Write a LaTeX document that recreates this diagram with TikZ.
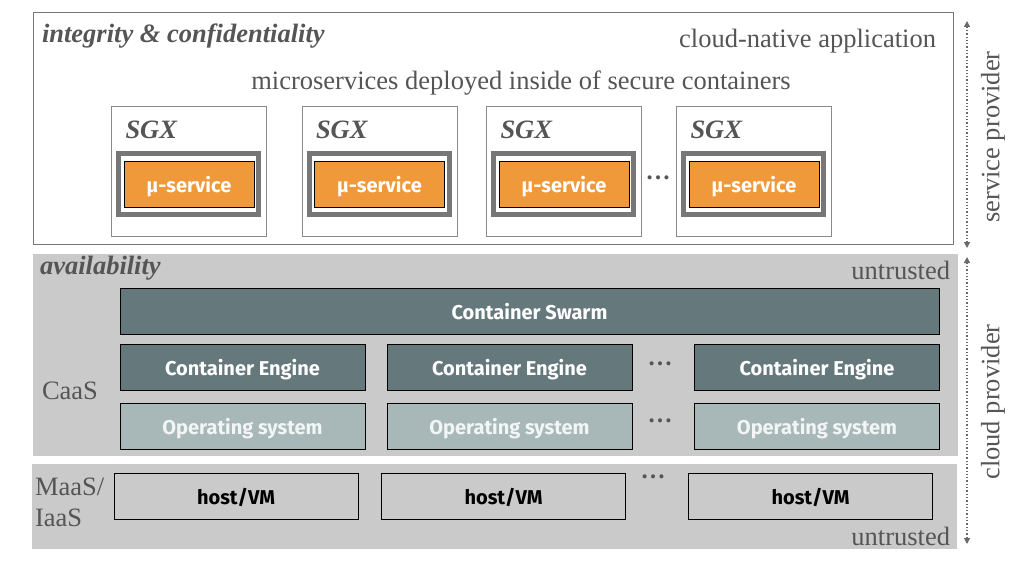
\documentclass[tikz,border=0pt]{standalone}
\usepackage{fontspec}
\setmainfont{Liberation Serif}
\setsansfont{Fira Sans}
\usetikzlibrary{arrows.meta}
\definecolor{txtgray}{HTML}{555555}
\definecolor{bandgray}{HTML}{CACACA}
\definecolor{framegray}{HTML}{777777}
\definecolor{sgxgray}{HTML}{8A8A8A}
\definecolor{msorange}{HTML}{F0993A}
\definecolor{engfill}{HTML}{65787C}
\definecolor{osfill}{HTML}{A8B8B8}
\definecolor{ostext}{HTML}{F2F5F5}
\definecolor{arrgray}{HTML}{6A6A6A}
\newcommand{\serifbig}{\fontsize{26.5}{30}\selectfont}
\newcommand{\sansmid}{\fontsize{20}{24}\selectfont\sffamily\bfseries}
\begin{document}
\begin{tikzpicture}[x=1pt,y=-1pt,
  every node/.style={inner sep=0pt, outer sep=0pt},
  topbox/.style={draw=framegray, line width=1pt, fill=white},
  sgxbox/.style={draw=sgxgray, line width=1pt, fill=white, minimum width=155pt, minimum height=129pt},
  enclave/.style={draw=framegray, line width=5pt, minimum width=140pt, minimum height=61pt},
  sansbox/.style={draw=black, line width=0.8pt, minimum height=46pt, font=\sansmid, text height=16.5pt, text depth=0pt},
  msbox/.style={sansbox, fill=msorange, minimum width=130pt, text=white},
  swarmbox/.style={sansbox, fill=engfill, minimum width=819pt, text=white},
  engbox/.style={sansbox, fill=engfill, minimum width=245pt, text=white},
  osbox/.style={sansbox, fill=osfill, minimum width=245pt, text=ostext},
  hostbox/.style={sansbox, fill=bandgray, minimum width=244pt, text=black},
  lbl/.style={text=txtgray, font=\serifbig},
  lblbi/.style={text=txtgray, font=\serifbig\bfseries\itshape},
  dotsl/.style={text=txtgray, font=\fontsize{25}{25}\selectfont\bfseries},
  sideline/.style={draw=arrgray, line width=1.3pt, dotted, {Triangle[width=6pt,length=6pt]}-{Triangle[width=6pt,length=6pt]}}
]
\useasboundingbox (0,0) rectangle (1024,569);

% frames
\node[topbox, minimum width=920pt, minimum height=231pt] (app) at (493,128.5) {};
\fill[bandgray] (33,254) rectangle (958,456);
\fill[bandgray] (32,464) rectangle (957,549);

% top labels
\node[lblbi, anchor=west] (integ) at (42,36) {integrity \& confidentiality};
\node[lbl, anchor=east] (cna) at (936,41) {cloud-native application};
\node[lbl] (micro) at (521,83) {microservices deployed inside of secure containers};

% SGX containers
\foreach \i/\cx in {1/189, 2/379.5, 3/564, 4/754} {
  \node[sgxbox] (sgx\i) at (\cx,171.5) {};
  \node[lblbi, anchor=west] (sgxl\i) at ([xshift=14pt,yshift=-23pt]sgx\i.north west) {SGX};
  \node[enclave] (encl\i) at (\cx-0.5,184) {};
  \node[msbox] (ms\i) at (\cx,184) {μ-service};
}
\node[dotsl] (dtop) at (658,178) {…};

% CaaS layer
\node[lblbi, anchor=west] (avail) at (40,268) {availability};
\node[lbl, anchor=east] (untr1) at (950,270) {untrusted};
\node[lbl, anchor=west] (caas) at (42,391) {CaaS};
\node[swarmbox] (swarm) at (529.5,311) {Container Swarm};
\node[engbox] (eng1) at (242.5,367) {Container Engine};
\node[engbox] (eng2) at (509.5,367) {Container Engine};
\node[engbox] (eng3) at (817,367) {Container Engine};
\node[dotsl] (deng) at (660,364) {…};
\node[osbox] (os1) at (242.5,426) {Operating system};
\node[osbox] (os2) at (509.5,426) {Operating system};
\node[osbox] (os3) at (817,426) {Operating system};
\node[dotsl] (dos) at (660,421) {…};

% MaaS/IaaS layer
\node[lbl, anchor=west, align=left] (maas) at (35,502) {MaaS/\\[1pt]IaaS};
\node[hostbox] (host1) at (236,496) {host/VM};
\node[hostbox] (host2) at (503.5,496) {host/VM};
\node[hostbox] (host3) at (810.5,496) {host/VM};
\node[dotsl] (dhost) at (653,477) {…};
\node[lbl, anchor=east] (untr2) at (950,536) {untrusted};

% side arrows
\coordinate (sptop) at (967,21);
\coordinate (spbot) at (967,248);
\coordinate (cptop) at (967,257);
\coordinate (cpbot) at (967,544);
\draw[sideline] (sptop) -- (spbot);
\draw[sideline] (cptop) -- (cpbot);
\node[lbl, rotate=90] (sprov) at (993,137) {service provider};
\node[lbl, rotate=90] (cprov) at (993,402) {cloud provider};
\end{tikzpicture}
\end{document}
